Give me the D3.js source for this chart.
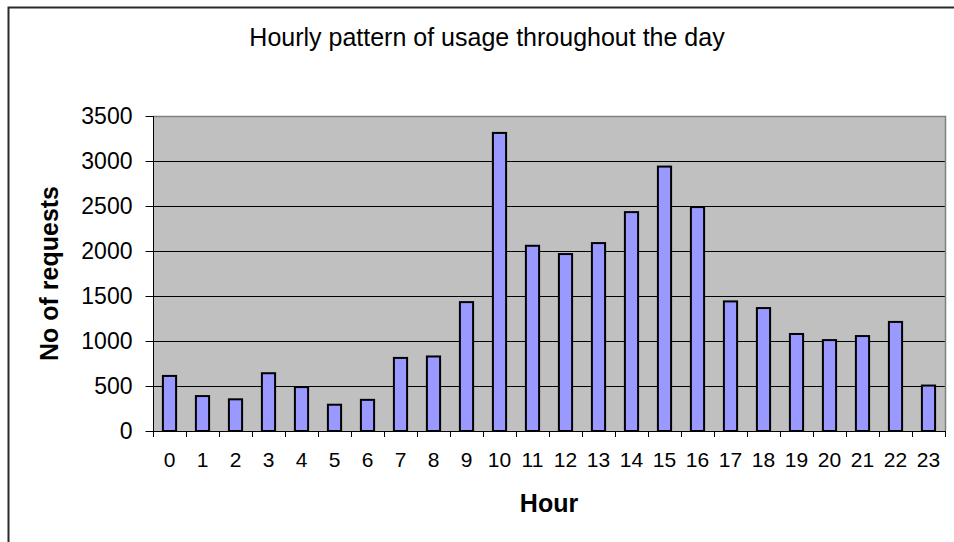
<!DOCTYPE html>
<html>
<head>
<meta charset="utf-8">
<script src="https://cdn.jsdelivr.net/npm/d3@7"></script>
<style>
  html, body { margin: 0; padding: 0; background: #fff; }
  svg { display: block; }
  text { font-family: "Liberation Sans", Arial, sans-serif; fill: #000; }
</style>
</head>
<body>
<svg id="chart" width="954" height="542"></svg>
<script>
const hours = ["0","1","2","3","4","5","6","7","8","9","10","11","12","13","14","15","16","17","18","19","20","21","22","23"];
const requests = [612, 388, 352, 642, 488, 292, 346, 812, 828, 1432, 3312, 2058, 1966, 2088, 2432, 2938, 2488, 1440, 1366, 1078, 1010, 1055, 1212, 505];
const yTicks = [0, 500, 1000, 1500, 2000, 2500, 3000, 3500];
const chartTitle = "Hourly pattern of usage throughout the day";
const xTitle = "Hour";
const yTitle = "No of requests";

const svg = d3.select("#chart");
const plot = { left: 153, right: 945, top: 116, bottom: 431 };

// outer frame
svg.append("path")
  .attr("d", "M8.5,542 L8.5,7.5 L954,7.5")
  .attr("fill", "none").attr("stroke", "#2b2b2b").attr("stroke-width", 2);

const x = d3.scaleBand().domain(hours).range([plot.left, plot.right])
  .paddingInner(0.6).paddingOuter(0.3);
const y = d3.scaleLinear().domain([0, 3500]).range([plot.bottom, plot.top]);

// plot background
svg.append("rect")
  .attr("x", plot.left).attr("y", plot.top)
  .attr("width", plot.right - plot.left).attr("height", plot.bottom - plot.top)
  .attr("fill", "#c0c0c0");

// gridlines
svg.append("g").selectAll("line").data(yTicks.filter(d => d > 0 && d < 3500)).join("line")
  .attr("x1", plot.left).attr("x2", plot.right)
  .attr("y1", d => Math.round(y(d)) + 0.5).attr("y2", d => Math.round(y(d)) + 0.5)
  .attr("stroke", "#000").attr("stroke-width", 1);

// plot border top/right (gray)
svg.append("path")
  .attr("d", `M${plot.left},${plot.top + 0.5} L${plot.right + 0.5},${plot.top + 0.5} L${plot.right + 0.5},${plot.bottom}`)
  .attr("fill", "none").attr("stroke", "#808080").attr("stroke-width", 1.5);

// bars
svg.append("g").selectAll("rect").data(requests).join("rect")
  .attr("x", (d, i) => x(hours[i]))
  .attr("y", d => y(d))
  .attr("width", x.bandwidth())
  .attr("height", d => y(0) - y(d))
  .attr("fill", "#9999ff")
  .attr("stroke", "#000")
  .attr("stroke-width", 2);

// y axis
const yAxis = svg.append("g")
  .attr("transform", `translate(${plot.left + 0.5},0)`)
  .call(d3.axisLeft(y).tickValues(yTicks).tickFormat(d3.format("d"))
    .tickSize(8).tickPadding(13).tickSizeOuter(0));
yAxis.select(".domain").remove();
yAxis.append("line").attr("x1", 0).attr("x2", 0).attr("y1", plot.top).attr("y2", plot.bottom + 6)
  .attr("stroke", "#000").attr("stroke-width", 1);
yAxis.selectAll(".tick line").attr("stroke", "#000");
yAxis.selectAll(".tick text")
  .style("font-family", '"Liberation Sans", Arial, sans-serif')
  .style("font-size", "23px").attr("fill", "#000");

// x axis line
svg.append("line")
  .attr("x1", plot.left).attr("x2", plot.right + 1)
  .attr("y1", plot.bottom + 0.5).attr("y2", plot.bottom + 0.5)
  .attr("stroke", "#000").attr("stroke-width", 1);

// x ticks at category boundaries
const boundaries = d3.range(hours.length + 1).map(i => plot.left + i * x.step());
svg.append("g").selectAll("line").data(boundaries).join("line")
  .attr("x1", d => Math.round(d) + 0.5).attr("x2", d => Math.round(d) + 0.5)
  .attr("y1", plot.bottom).attr("y2", plot.bottom + 6)
  .attr("stroke", "#000").attr("stroke-width", 1);

// x tick labels
svg.append("g").selectAll("text").data(hours).join("text")
  .attr("x", d => x(d) + x.bandwidth() / 2)
  .attr("y", 467)
  .attr("text-anchor", "middle")
  .style("font-size", "21px")
  .text(d => d);

// titles
svg.append("text")
  .attr("x", 487).attr("y", 46)
  .attr("text-anchor", "middle")
  .style("font-size", "25px")
  .text(chartTitle);

svg.append("text")
  .attr("x", (plot.left + plot.right) / 2).attr("y", 512)
  .attr("text-anchor", "middle")
  .style("font-size", "25px").style("font-weight", "bold")
  .text(xTitle);

svg.append("text")
  .attr("transform", `translate(58,${(plot.top + plot.bottom) / 2}) rotate(-90)`)
  .attr("text-anchor", "middle")
  .style("font-size", "25px").style("font-weight", "bold")
  .text(yTitle);
</script>
</body>
</html>
